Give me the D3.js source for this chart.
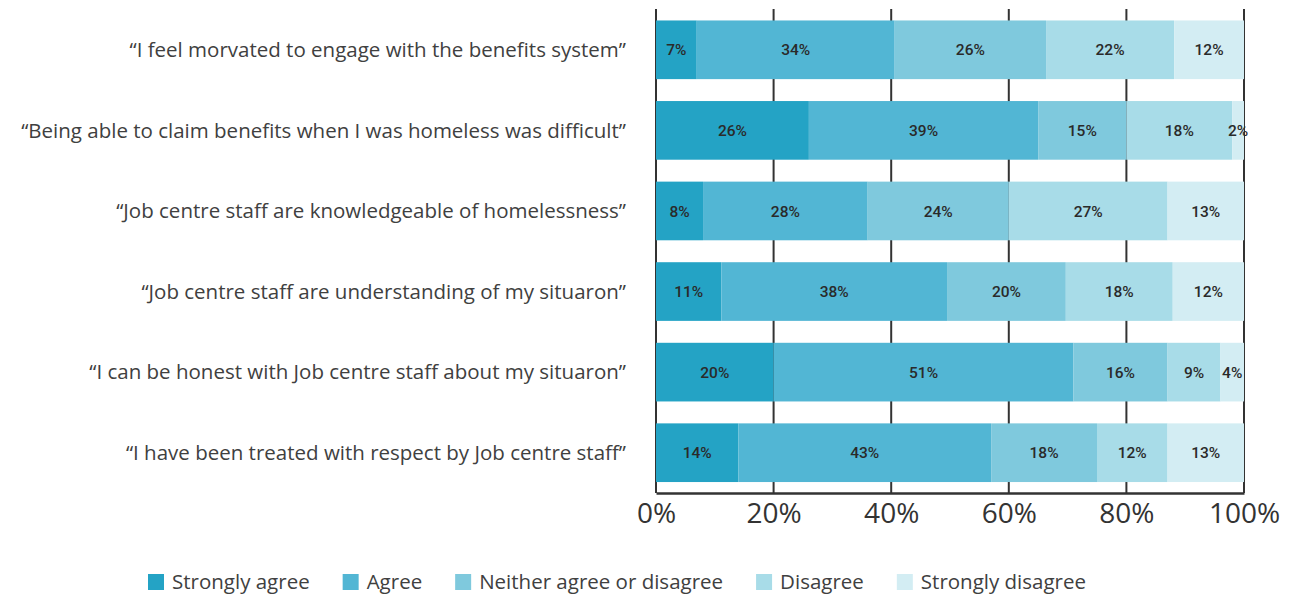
<!DOCTYPE html>
<html>
<head>
<meta charset="utf-8">
<script src="https://cdn.jsdelivr.net/npm/d3@7/dist/d3.min.js"></script>
<style>
  html, body { margin: 0; padding: 0; background: #ffffff; }
  svg { display: block; }
</style>
</head>
<body>
<svg id="chart" width="1297" height="599"></svg>
<script>
// Survey statements (top to bottom)
const statements = [
  "\u201cI feel morvated to engage with the benefits system\u201d",
  "\u201cBeing able to claim benefits when I was homeless was difficult\u201d",
  "\u201cJob centre staff are knowledgeable of homelessness\u201d",
  "\u201cJob centre staff are understanding of my situaron\u201d",
  "\u201cI can be honest with Job centre staff about my situaron\u201d",
  "\u201cI have been treated with respect by Job centre staff\u201d"
];

// Response categories
const responses = ["Strongly agree", "Agree", "Neither agree or disagree", "Disagree", "Strongly disagree"];

// Percentage of respondents per response, one array per category (same order as statements)
const stronglyAgree    = [7, 26, 8, 11, 20, 14];
const agree            = [34, 39, 28, 38, 51, 43];
const neither          = [26, 15, 24, 20, 16, 18];
const disagree         = [22, 18, 27, 18, 9, 12];
const stronglyDisagree = [12, 2, 13, 12, 4, 13];

// Axis tick values (percent)
const tickValues = [0, 20, 40, 60, 80, 100];

const colors = ["#24a3c5", "#52b6d4", "#7fc9dd", "#a8dce8", "#d3edf3"];

const seriesValues = [stronglyAgree, agree, neither, disagree, stronglyDisagree];
const rows = statements.map((s, i) => {
  const r = { statement: s };
  responses.forEach((k, j) => { r[k] = seriesValues[j][i]; });
  return r;
});

const svg = d3.select("#chart");

const x = d3.scaleLinear().domain([0, 1]).range([656, 1244]);
const y = d3.scaleBand()
  .domain(statements)
  .range([9.5, 493])
  .paddingInner(0.272)
  .paddingOuter(0.136);
const color = d3.scaleOrdinal().domain(responses).range(colors);

// 100% stacked layout: each row normalised to its total
const stack = d3.stack().keys(responses).offset(d3.stackOffsetExpand);
const series = stack(rows);

// Vertical grid lines at each tick, behind the bars
svg.append("g")
  .selectAll("line")
  .data(tickValues)
  .join("line")
  .attr("x1", d => x(d / 100))
  .attr("x2", d => x(d / 100))
  .attr("y1", 9)
  .attr("y2", 493)
  .attr("stroke", "#333333")
  .attr("stroke-width", 2);

// Stacked bar segments
const layers = svg.append("g")
  .selectAll("g")
  .data(series)
  .join("g")
  .attr("fill", d => color(d.key));

layers.selectAll("rect")
  .data(d => d)
  .join("rect")
  .attr("x", d => x(d[0]))
  .attr("y", d => y(d.data.statement))
  .attr("width", d => x(d[1]) - x(d[0]))
  .attr("height", y.bandwidth());

// Value labels centred in each segment
const labelLayers = svg.append("g")
  .selectAll("g")
  .data(series)
  .join("g");

labelLayers.selectAll("text")
  .data(d => d.map(v => ({ v, key: d.key })))
  .join("text")
  .attr("x", d => (x(d.v[0]) + x(d.v[1])) / 2)
  .attr("y", d => y(d.v.data.statement) + y.bandwidth() / 2)
  .attr("dy", "0.36em")
  .attr("text-anchor", "middle")
  .attr("font-family", "Roboto, sans-serif")
  .attr("font-weight", 500)
  .attr("font-size", "15.5px")
  .attr("fill", "#2a2a2a")
  .text(d => d.v.data[d.key] + "%");

// Bottom axis
const xAxis = d3.axisBottom(x)
  .tickValues(tickValues.map(t => t / 100))
  .tickFormat(d => Math.round(d * 100) + "%")
  .tickSize(0)
  .tickPadding(10);

const axisG = svg.append("g")
  .attr("transform", "translate(0,493)")
  .call(xAxis);
axisG.select(".domain")
  .attr("stroke", "#333333")
  .attr("stroke-width", 2.5);
axisG.selectAll("text")
  .attr("font-family", "'Open Sans', sans-serif")
  .attr("font-size", "28px")
  .attr("fill", "#333333");

// Statement labels on the left
svg.append("g")
  .selectAll("text")
  .data(statements)
  .join("text")
  .attr("x", 626)
  .attr("y", d => y(d) + y.bandwidth() / 2)
  .attr("dy", "0.35em")
  .attr("text-anchor", "end")
  .attr("font-family", "'Open Sans', sans-serif")
  .attr("font-size", "20.5px")
  .attr("fill", "#404040")
  .text(d => d);

// Legend
const legend = svg.append("g").attr("transform", "translate(148,574)");
let lx = 0;
responses.forEach((r, i) => {
  const item = legend.append("g").attr("transform", `translate(${lx},0)`);
  item.append("rect")
    .attr("width", 16)
    .attr("height", 16)
    .attr("fill", colors[i]);
  const t = item.append("text")
    .attr("x", 24)
    .attr("y", 8)
    .attr("dy", "0.36em")
    .attr("font-family", "'Open Sans', sans-serif")
    .attr("font-size", "20.5px")
    .attr("fill", "#404040")
    .text(r);
  lx += 24 + t.node().getComputedTextLength() + 33;
});
</script>
</body>
</html>
